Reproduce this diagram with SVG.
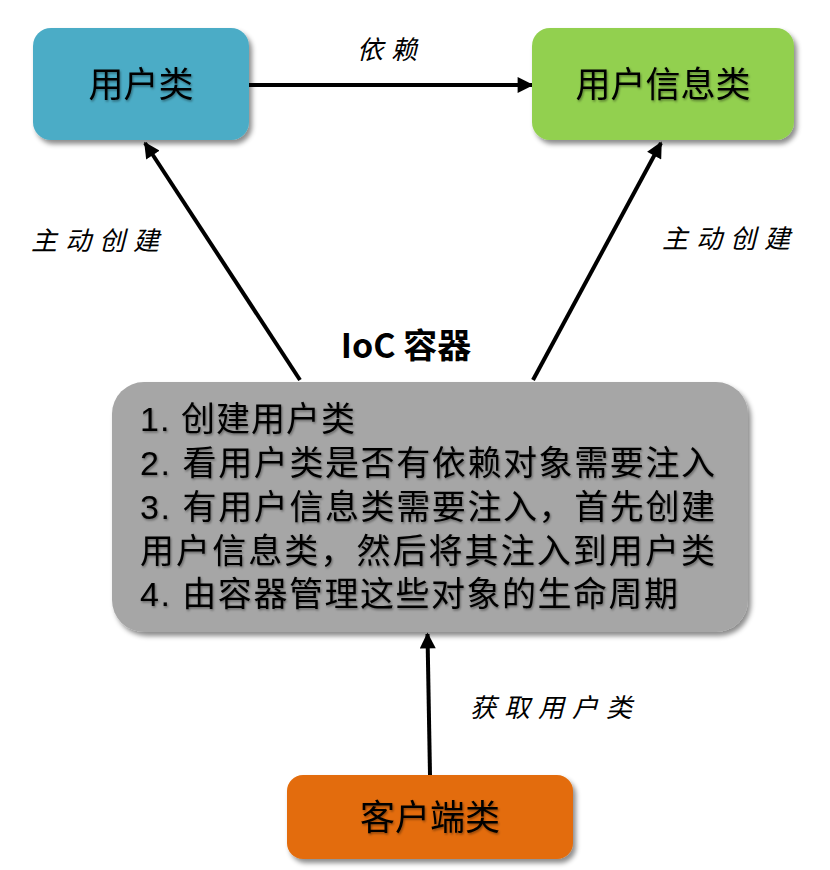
<svg xmlns="http://www.w3.org/2000/svg" width="830" height="870" viewBox="0 0 830 870">
  <defs>
    <filter id="shadow" x="-10%" y="-10%" width="130%" height="140%">
      <feDropShadow dx="3" dy="4" stdDeviation="2.5" flood-color="#000" flood-opacity="0.45"/>
    </filter>
    <filter id="tshadow" x="-10%" y="-20%" width="130%" height="150%">
      <feDropShadow dx="1" dy="1.5" stdDeviation="0.8" flood-color="#000" flood-opacity="0.4"/>
    </filter>
    <marker id="arrow" viewBox="0 0 10 10" refX="9" refY="5" markerWidth="4.2" markerHeight="4" markerUnits="strokeWidth" orient="auto">
      <path d="M0,0 L10,5 L0,10 z" fill="#000"/>
    </marker>
    <style>
      .node-text { font-family: "Noto Sans CJK SC", "Liberation Sans", sans-serif; font-size: 35px; fill: #000; text-anchor: middle; }
      .edge { stroke: #000; stroke-width: 4; fill: none; marker-end: url(#arrow); }
      .label { font-family: "Noto Sans CJK SC", sans-serif; font-size: 26px; fill: #000; font-style: italic; letter-spacing: 8px; }
      .steps { font-family: "Liberation Sans", "Noto Sans CJK SC", sans-serif; font-size: 34px; fill: #000; }
      .title { font-family: "Noto Sans CJK SC", "Liberation Sans", sans-serif; font-size: 34px; font-weight: bold; fill: #000; text-anchor: middle; }
    </style>
  </defs>

  <rect width="830" height="870" fill="#fff"/>

  <!-- connectors -->
  <g id="connectors">
    <line class="edge" x1="249" y1="85" x2="532" y2="85"/>
    <line class="edge" x1="300" y1="380" x2="145" y2="143"/>
    <line class="edge" x1="533" y1="380" x2="661" y2="143"/>
    <line class="edge" x1="430" y1="775" x2="427.5" y2="634"/>
    <text class="label" x="357" y="59">依赖</text>
    <text class="label" x="31" y="250">主动创建</text>
    <text class="label" x="662" y="248">主动创建</text>
    <text class="label" x="470" y="717">获取用户类</text>
  </g>

  <g id="user">
    <rect x="33" y="28" width="216" height="112" rx="18" fill="#4BACC6" filter="url(#shadow)"/>
    <text class="node-text" x="141" y="97" filter="url(#tshadow)">用户类</text>
  </g>

  <g id="user-info">
    <rect x="532" y="28" width="262" height="112" rx="18" fill="#92D050" filter="url(#shadow)"/>
    <text class="node-text" x="663" y="97" filter="url(#tshadow)">用户信息类</text>
  </g>

  <g id="ioc">
    <text class="title" x="406" y="358">IoC 容器</text>
    <rect x="112" y="382" width="636" height="250" rx="32" fill="#A6A6A6" filter="url(#shadow)"/>
    <g class="steps" filter="url(#tshadow)">
      <text x="140" y="431" textLength="215" lengthAdjust="spacing">1. 创建用户类</text>
      <text x="140" y="475" textLength="575" lengthAdjust="spacing">2. 看用户类是否有依赖对象需要注入</text>
      <text x="140" y="519" textLength="575" lengthAdjust="spacing">3. 有用户信息类需要注入，首先创建</text>
      <text x="140" y="563" textLength="575" lengthAdjust="spacing">用户信息类，然后将其注入到用户类</text>
      <text x="140" y="606" textLength="538" lengthAdjust="spacing">4. 由容器管理这些对象的生命周期</text>
    </g>
  </g>

  <g id="client">
    <rect x="287" y="775" width="286" height="84" rx="16" fill="#E36C09" filter="url(#shadow)"/>
    <text class="node-text" x="430" y="830" filter="url(#tshadow)">客户端类</text>
  </g>
</svg>
